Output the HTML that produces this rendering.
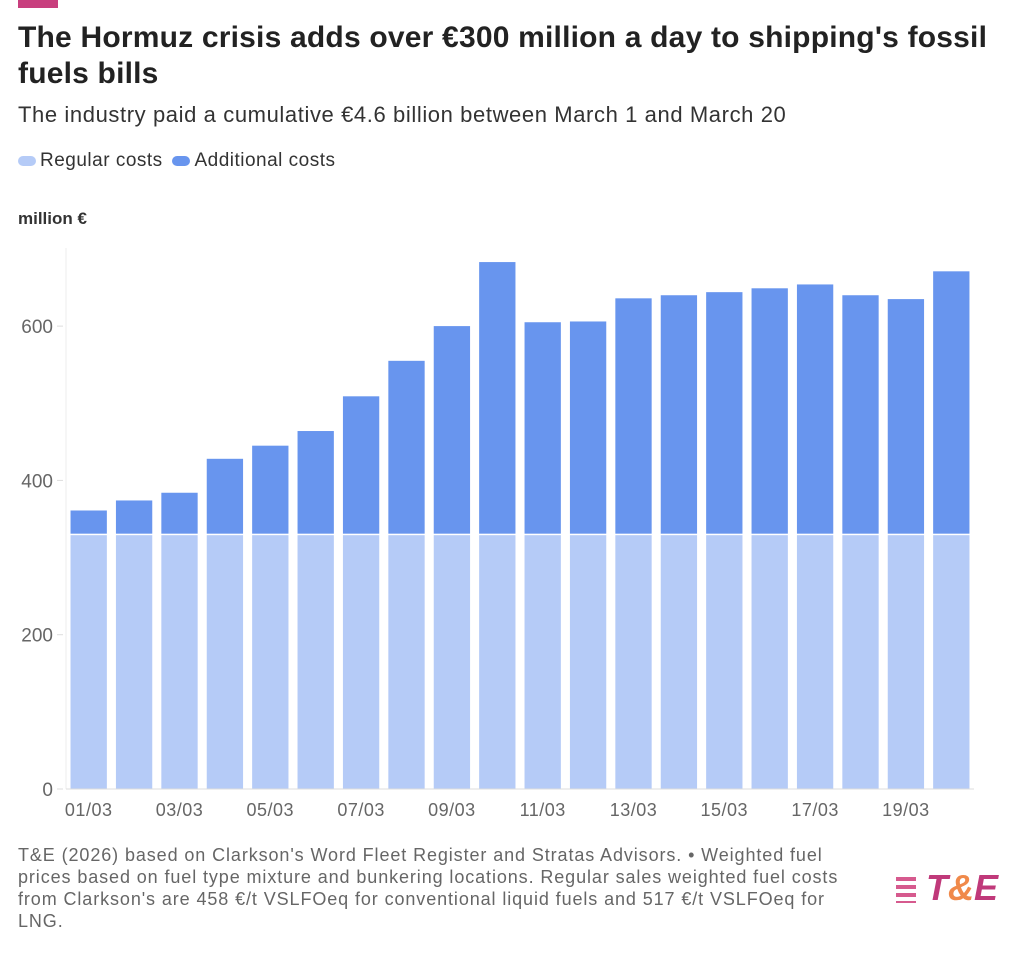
<!DOCTYPE html>
<html><head><meta charset="utf-8"><style>
body{margin:0;width:1024px;height:959px;background:#fff;font-family:"Liberation Sans",sans-serif;position:relative;overflow:hidden}
.a{position:absolute}
</style></head><body>
<div class="a" style="left:18px;top:0;width:40px;height:8px;background:#c83f7e"></div>
<div class="a" style="left:18px;top:20px;width:1000px;font-size:30px;font-weight:bold;line-height:36px;color:#222;letter-spacing:0.2px">The Hormuz crisis adds over €300 million a day to shipping's fossil<br>fuels bills</div>
<div class="a" style="left:18px;top:102px;font-size:22px;color:#333;letter-spacing:0.6px">The industry paid a cumulative €4.6 billion between March 1 and March 20</div>
<div class="a" style="left:18px;top:150px;font-size:19px;color:#333;letter-spacing:0.5px">
<span><span style="display:inline-block;width:18px;height:10px;border-radius:5px;background:#b5cbf7;margin-right:4px"></span>Regular costs</span>
<span style="margin-left:4px"><span style="display:inline-block;width:18px;height:10px;border-radius:5px;background:#6895ee;margin-right:4px"></span>Additional costs</span></div>
<div class="a" style="left:18px;top:209px;font-size:17px;font-weight:bold;color:#333">million €</div>
<svg class="a" style="left:0;top:0" width="1024" height="959" id="chart"></svg>
<div class="a" style="left:18px;top:844px;width:880px;font-size:18px;line-height:22px;color:#666;letter-spacing:0.9px;white-space:nowrap">T&amp;E (2026) based on Clarkson's Word Fleet Register and Stratas Advisors. • Weighted fuel<br>prices based on fuel type mixture and bunkering locations. Regular sales weighted fuel costs<br>from Clarkson's are 458 €/t VSLFOeq for conventional liquid fuels and 517 €/t VSLFOeq for<br>LNG.</div>
<div class="a" style="left:896px;top:866px;font-size:36px;font-weight:900;font-style:italic;color:#c0397a;line-height:44px">
<span style="display:inline-block;width:20px;height:26px;vertical-align:middle;background:repeating-linear-gradient(#d65a8e 0 4px,transparent 4px 8px);margin-right:10px"></span>T<span style="color:#f0894a">&amp;</span>E</div>
<script>
const categories=["01/03","02/03","03/03","04/03","05/03","06/03","07/03","08/03","09/03","10/03","11/03","12/03","13/03","14/03","15/03","16/03","17/03","18/03","19/03","20/03"];
const regular=[329,329,329,329,329,329,329,329,329,329,329,329,329,329,329,329,329,329,329,329];
const additional=[32,45,55,99,116,135,180,226,271,354,276,277,307,311,315,320,325,311,306,342];
const yTicks=[0,200,400,600];
const svg=document.getElementById('chart');const NS='http://www.w3.org/2000/svg';
const x0=66,x1=974,yb=789,ky=154.3/200;
const bw=(x1-x0)/categories.length;
const y=v=>yb-v*ky;
function mk(t,a){const e=document.createElementNS(NS,t);for(const k in a)e.setAttribute(k,a[k]);svg.appendChild(e);return e;}
const ax=mk('line',{x1:x0,x2:x0,y1:248,y2:yb,stroke:'#eee'});


yTicks.forEach(t=>{
const tl=mk('line',{x1:x0-9,x2:x0-3,y1:y(t),y2:y(t),stroke:'#ddd'});


const tx=mk('text',{x:x0-13,y:y(t)+7,'text-anchor':'end','font-size':19,fill:'#666','font-family':'Liberation Sans,sans-serif'});tx.textContent=t;


});
categories.forEach((c,i)=>{
const cx=x0+bw*(i+0.5),w=bw*0.8;
const r=mk('rect',{x:cx-w/2,y:y(regular[i]),width:w,height:regular[i]*ky,fill:'#b5cbf7'});


const a=mk('rect',{x:cx-w/2,y:y(regular[i]+additional[i]),width:w,height:additional[i]*ky-1.5,fill:'#6895ee'});


if(i%2==0){const t=mk('text',{x:cx,y:816,'text-anchor':'middle','font-size':18,fill:'#666','font-family':'Liberation Sans,sans-serif','letter-spacing':'0.5'});t.textContent=c;

}
});
const base=mk('line',{x1:x0,x2:x1,y1:yb,y2:yb,stroke:'#ddd'});


</script>
</body></html>
